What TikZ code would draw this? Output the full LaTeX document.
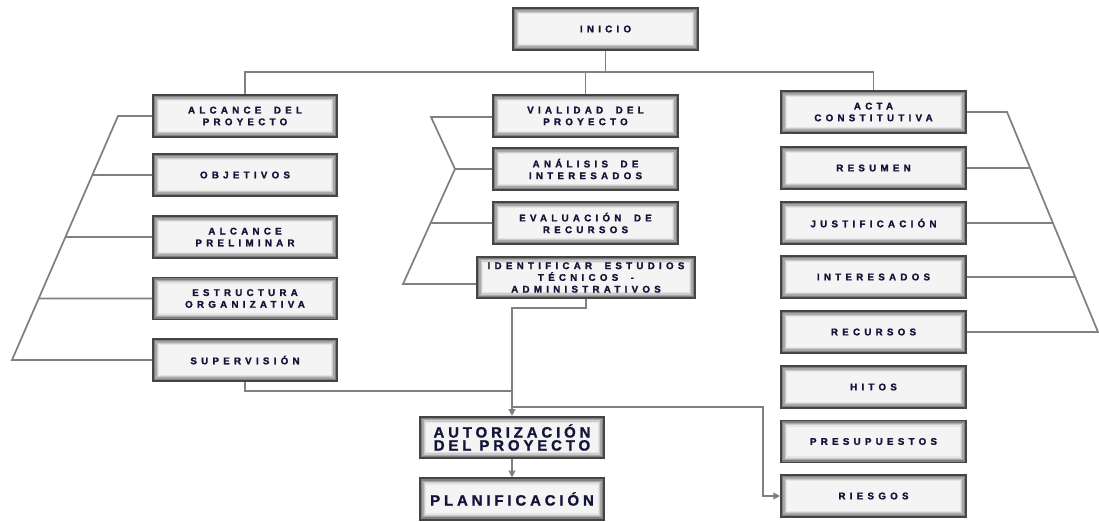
\documentclass[tikz,border=0pt]{standalone}
\usepackage{fontspec}
\setmainfont{Liberation Sans}
\newfontfamily\boxfont[LetterSpace=44, WordSpace=1.8, BoldFeatures={FakeBold=1.6}]{Liberation Sans}
\newfontfamily\bigboxfont[LetterSpace=26, BoldFeatures={FakeBold=1.2}]{Liberation Sans}
\usetikzlibrary{arrows.meta}
\definecolor{inkc}{HTML}{14143A}
\definecolor{linec}{HTML}{808080}
\definecolor{boxfill}{HTML}{F4F4F4}
\definecolor{rimc}{HTML}{454545}
\tikzset{
  card/.style={
    draw=rimc, line width=1.4pt, fill=boxfill, inner sep=0pt,
    text=inkc, align=center,
    font=\boxfont\bfseries\fontsize{7.3}{8.8}\selectfont,
    path picture={
      \foreach \d/\c in {1.2/black!50, 2.2/black!34, 3.2/black!20, 4.2/black!10}{
        \draw[\c, line width=1pt]
          ([shift={(\d pt,\d pt)}]path picture bounding box.south west) rectangle
          ([shift={(-\d pt,-\d pt)}]path picture bounding box.north east);
      }
    }
  },
  cardL/.style={card, minimum width=138pt, minimum height=31.5pt},
  cardM/.style={card, minimum width=138.75pt, minimum height=31.5pt},
  cardR/.style={card, minimum width=138.75pt, minimum height=31.5pt},
  cardbig/.style={card, minimum width=138pt, minimum height=31pt,
    font=\bigboxfont\bfseries\fontsize{11.2}{9.8}\selectfont},
  wire/.style={draw=linec, line width=1.3pt},
  wirearrow/.style={wire, -{Triangle[length=5pt,width=5pt]}},
}
\begin{document}
\begin{tikzpicture}[x=0.75pt, y=-0.75pt]
\useasboundingbox (0,0) rectangle (1099,521);

% top of the tree
\node[cardM] (inicio) at (605.5,29) {INICIO};

% left column
\node[cardL] (alcance)     at (245,116)   {ALCANCE DEL\\PROYECTO};
\node[cardL] (objetivos)   at (245,175)   {OBJETIVOS};
\node[cardL] (preliminar)  at (245,237)   {ALCANCE\\PRELIMINAR};
\node[cardL] (estructura)  at (245,298.5) {ESTRUCTURA\\ORGANIZATIVA};
\node[cardL] (supervision) at (245,360)   {SUPERVISIÓN};

% middle column
\node[cardM] (vialidad)    at (585.5,116)   {VIALIDAD DEL\\PROYECTO};
\node[cardM] (analisis)    at (585.5,169)   {ANÁLISIS DE\\INTERESADOS};
\node[cardM] (evaluacion)  at (585.5,223)   {EVALUACIÓN DE\\RECURSOS};
\node[card, minimum width=163.5pt, minimum height=31pt] (identificar) at (586,277.5)
  {IDENTIFICAR ESTUDIOS\\TÉCNICOS -\\ADMINISTRATIVOS};

% outcome boxes
\node[cardbig] (autorizacion)  at (512,437.5) {AUTORIZACIÓN\\DEL PROYECTO};
\node[cardbig] (planificacion) at (512,499)   {PLANIFICACIÓN};

% right column
\node[cardR] (acta)         at (873.5,112)   {ACTA\\CONSTITUTIVA};
\node[cardR] (resumen)      at (873.5,168)   {RESUMEN};
\node[cardR] (justificacion) at (873.5,223)  {JUSTIFICACIÓN};
\node[cardR] (interesados)  at (873.5,277)   {INTERESADOS};
\node[cardR] (recursos)     at (873.5,332)   {RECURSOS};
\node[cardR] (hitos)        at (873.5,387)   {HITOS};
\node[cardR] (presupuestos) at (873.5,441.5) {PRESUPUESTOS};
\node[cardR] (riesgos)      at (873.5,496)   {RIESGOS};

% main bus under INICIO
\coordinate (bus) at (605.5,72);
\draw[wire] (inicio.south) -- (inicio.south |- bus);
\draw[wire] (alcance.north) -- (alcance.north |- bus) -- (acta.north |- bus) -- (acta.north);
\draw[wire] (vialidad.north) -- (vialidad.north |- bus);

% left bracket
\coordinate (L1) at (118,116);
\coordinate (L2) at (12,360);
\draw[wire] (alcance.west) -- (L1) -- (L2) -- (supervision.west);
\foreach \n in {objetivos, preliminar, estructura}{
  \draw[wire] (\n.west) -- (intersection cs: first line={(L1)--(L2)},
                                 second line={(\n.west)--([xshift=-50pt]\n.west)});
}

% middle bracket
\coordinate (M1) at (431,117);
\coordinate (M2) at (455,169);
\coordinate (M3) at (403,284);
\draw[wire] (vialidad.west |- M1) -- (M1) -- (M2) -- (M3) -- (M3 -| identificar.west);
\draw[wire] (analisis.west) -- (M2);
\draw[wire] (evaluacion.west) -- (intersection cs: first line={(M2)--(M3)},
                                  second line={(evaluacion.west)--([xshift=-50pt]evaluacion.west)});

% right bracket
\coordinate (R1) at (1007,112);
\coordinate (R2) at (1098,332);
\draw[wire] (acta.east) -- (R1) -- (R2) -- (recursos.east);
\foreach \n in {resumen, justificacion, interesados}{
  \draw[wire] (\n.east) -- (intersection cs: first line={(R1)--(R2)},
                                 second line={(\n.east)--([xshift=50pt]\n.east)});
}

% flow towards authorisation and planning
\coordinate (K) at (512,308);
\coordinate (J) at (512,391);
\coordinate (S) at (512,407);
\coordinate (T) at (763,407);
\draw[wirearrow] (identificar.south) |- (K) -- (autorizacion.north);
\draw[wire] (supervision.south) |- (J);
\draw[wirearrow] (S) -- (T) |- (riesgos.west);
\draw[wirearrow] (autorizacion.south) -- (planificacion.north);
\end{tikzpicture}
\end{document}
